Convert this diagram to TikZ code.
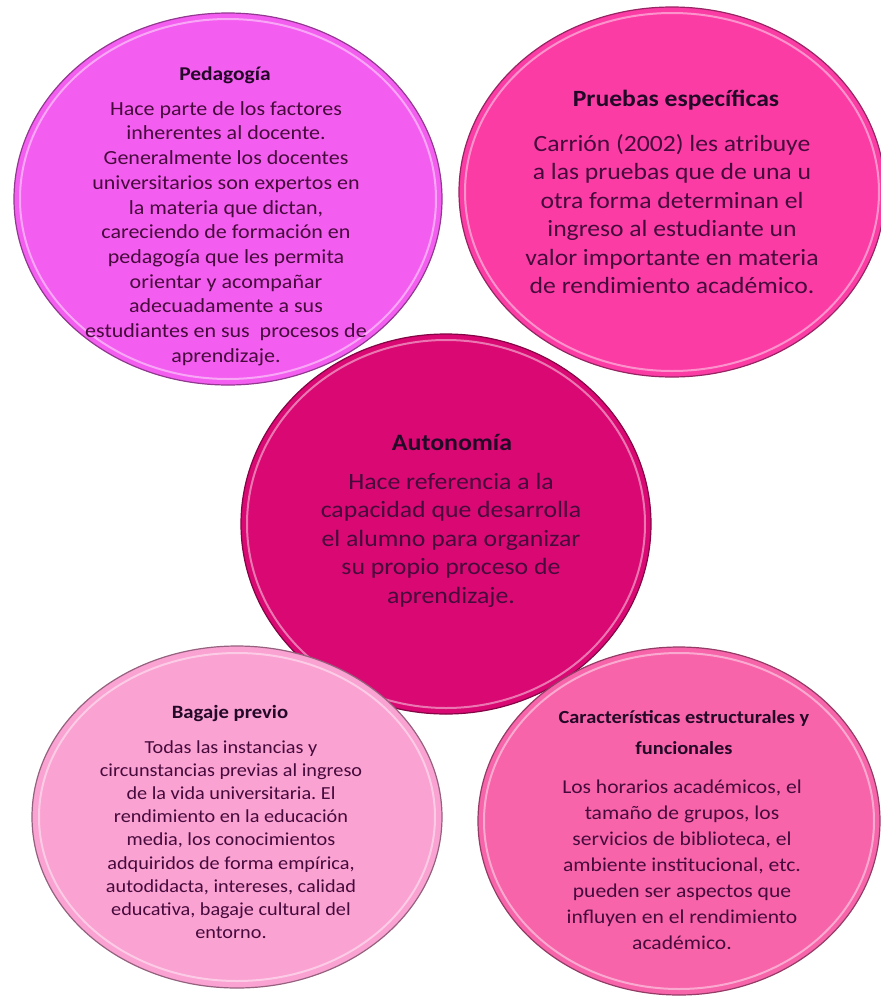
\documentclass[tikz,border=0pt]{standalone}
\usepackage{fontspec}
\setmainfont{Carlito}[FakeStretch=1.1]
\usetikzlibrary{shapes.geometric}
\frenchspacing
\definecolor{cPed}{RGB}{244,94,240}
\definecolor{cPru}{RGB}{252,60,165}
\definecolor{cAut}{RGB}{218,8,115}
\definecolor{cBag}{RGB}{250,162,210}
\definecolor{cCar}{RGB}{247,100,170}
\definecolor{txt}{RGB}{70,10,60}
\definecolor{ttl}{RGB}{35,8,40}
\tikzset{
  blob/.style={ellipse, inner sep=0pt, line width=1.2pt},
  ring/.style={ellipse, inner sep=0pt, draw=white, draw opacity=0.45, line width=2pt},
  bodytext/.style={align=center, text=txt, inner sep=0pt},
  titletext/.style={align=center, text=ttl, font=\bfseries, inner sep=0pt},
}
\begin{document}
\begin{tikzpicture}[x=1pt,y=-1pt]
\fill[white] (0,0) rectangle (881,997);
\useasboundingbox (0,0) rectangle (881,997);

% Pedagogia
\node[blob, fill=cPed, draw=cPed!60!black, minimum width=428pt, minimum height=372pt] (ped) at (228,199) {};
\node[ring, minimum width=416pt, minimum height=360pt] (pedring) at (ped.center) {};
\node[titletext, font=\bfseries\fontsize{19.5}{24}\selectfont] (pedT) at (225,75) {Pedagogía};
\node[bodytext, font=\fontsize{20}{24.7}\selectfont] (pedB) at (226,233.5) {Hace parte de los factores\\inherentes al docente.\\Generalmente los docentes\\universitarios son expertos en\\la materia que dictan,\\careciendo de formación en\\pedagogía que les permita\\orientar y acompañar\\adecuadamente a sus\\estudiantes en sus\ \ procesos de\\aprendizaje.};

% Pruebas especificas
\node[blob, fill=cPru, draw=cPru!60!black, minimum width=426pt, minimum height=370pt] (pru) at (672,192) {};
\node[ring, minimum width=414pt, minimum height=358pt] (prurring) at (pru.center) {};
\node[titletext, font=\bfseries\fontsize{23.3}{28}\selectfont] (pruT) at (676,100) {Pruebas específicas};
\node[bodytext, font=\fontsize{23.3}{28.4}\selectfont] (pruB) at (672,214) {Carrión (2002) les atribuye\\a las pruebas que de una u\\otra forma determinan el\\ingreso al estudiante un\\valor importante en materia\\de rendimiento académico.};

% Autonomia
\node[blob, fill=cAut, draw=cAut!60!black, minimum width=410pt, minimum height=380pt] (aut) at (446,524) {};
\node[ring, minimum width=398pt, minimum height=368pt] (autring) at (aut.center) {};
\node[titletext, font=\bfseries\fontsize{23.5}{28}\selectfont] (autT) at (452,442) {Autonomía};
\node[bodytext, font=\fontsize{23.4}{28.5}\selectfont] (autB) at (451,540) {Hace referencia a la\\capacidad que desarrolla\\el alumno para organizar\\su propio proceso de\\aprendizaje.};

% Bagaje previo
\node[blob, fill=cBag, draw=cBag!60!black, minimum width=410pt, minimum height=342pt] (bag) at (237,817) {};
\node[ring, minimum width=396pt, minimum height=328pt] (bagring) at (bag.center) {};
\node[titletext, font=\bfseries\fontsize{18.8}{23}\selectfont] (bagT) at (230,713) {Bagaje previo};
\node[bodytext, font=\fontsize{18.4}{23.2}\selectfont] (bagB) at (231,839.5) {Todas las instancias y\\circunstancias previas al ingreso\\de la vida universitaria. El\\rendimiento en la educación\\media, los conocimientos\\adquiridos de forma empírica,\\autodidacta, intereses, calidad\\educativa, bagaje cultural del\\entorno.};

% Caracteristicas
\node[blob, fill=cCar, draw=cCar!60!black, minimum width=402pt, minimum height=348pt] (car) at (679,821) {};
\node[ring, minimum width=390pt, minimum height=336pt] (carring) at (car.center) {};
\node[titletext, font=\bfseries\fontsize{18.5}{31}\selectfont] (carT) at (684,732.5) {Características estructurales y\\funcionales};
\node[bodytext, font=\fontsize{19.6}{26}\selectfont] (carB) at (682,865) {Los horarios académicos, el\\tamaño de grupos, los\\servicios de biblioteca, el\\ambiente institucional, etc.\\pueden ser aspectos que\\influyen en el rendimiento\\académico.};
\end{tikzpicture}
\end{document}
